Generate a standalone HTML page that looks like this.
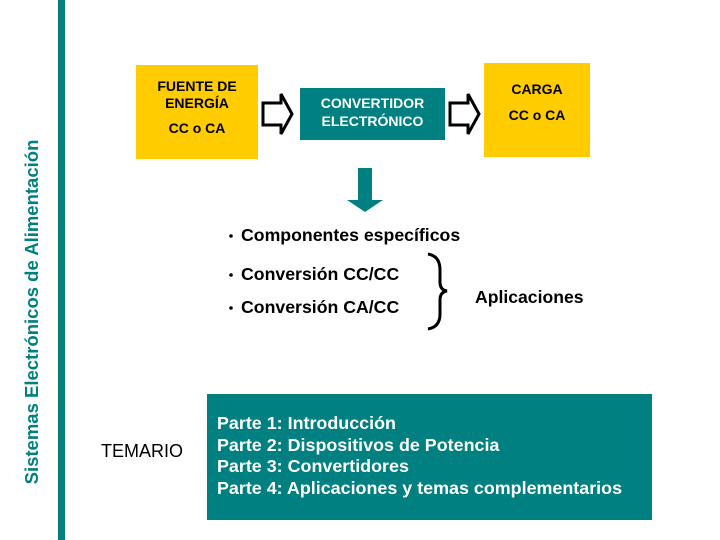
<!DOCTYPE html>
<html><head><meta charset="utf-8"><style>
body{margin:0;width:720px;height:540px;background:#fff;position:relative;overflow:hidden;font-family:"Liberation Sans",Arial,sans-serif}
div{position:absolute;white-space:nowrap}
.y{background:#FFCC00}
.t{background:#008080}
.b{font-weight:bold}
</style></head><body>
<div style="left:58px;top:0;width:7px;height:540px;background:#008080"></div>
<div class="b" style="left:32px;top:312px;width:400px;height:22px;transform:translate(-200px,-11px) rotate(-90deg);color:#008080;font-size:18.5px;text-align:center;line-height:22px">Sistemas Electrónicos de Alimentación</div>

<div class="y" style="left:136px;top:65px;width:122px;height:94px"></div>
<div class="b" style="left:136px;top:78px;width:122px;text-align:center;font-size:14px;line-height:17px">FUENTE DE<br>ENERGÍA</div>
<div class="b" style="left:136px;top:120px;width:122px;text-align:center;font-size:14px">CC o CA</div>

<div class="t" style="left:300px;top:88px;width:145px;height:52px"></div>
<div class="b" style="left:300px;top:94px;width:145px;text-align:center;font-size:14px;line-height:18px;color:#fff">CONVERTIDOR<br>ELECTRÓNICO</div>

<div class="y" style="left:484px;top:63px;width:106px;height:94px"></div>
<div class="b" style="left:484px;top:81px;width:106px;text-align:center;font-size:14px">CARGA</div>
<div class="b" style="left:484px;top:107px;width:106px;text-align:center;font-size:14px">CC o CA</div>

<svg style="position:absolute;left:0;top:0" width="720" height="540">
<polygon points="263,103 281,103 281,94 292,114 281,134 281,125 263,125" fill="#fff" stroke="#000" stroke-width="3"/>
<polygon points="450,103 468,103 468,94 479,114 468,134 468,125 450,125" fill="#fff" stroke="#000" stroke-width="3"/>
<polygon points="358,168 372,168 372,200 383,200 365,212 347,200 358,200" fill="#008080"/>
<path d="M428,254 Q440,256 440,270 L440,282 Q440,290 447,291 Q440,292 440,300 L440,314 Q440,327 428,329" fill="none" stroke="#000" stroke-width="3"/>
<circle cx="231" cy="236" r="1.8" fill="#000"/>
<circle cx="231" cy="275" r="1.8" fill="#000"/>
<circle cx="231" cy="308" r="1.8" fill="#000"/>
</svg>

<div class="b" style="left:241px;top:225px;font-size:17.7px">Componentes específicos</div>
<div class="b" style="left:241px;top:264px;font-size:17.7px">Conversión CC/CC</div>
<div class="b" style="left:241px;top:297px;font-size:17.7px">Conversión CA/CC</div>
<div class="b" style="left:475px;top:287px;font-size:17.6px">Aplicaciones</div>

<div style="left:101px;top:441px;font-size:18px">TEMARIO</div>
<div class="t" style="left:207px;top:394px;width:445px;height:126px"></div>
<div class="b" style="left:217px;top:413px;font-size:17.9px;line-height:21.5px;color:#fff">Parte 1: Introducción<br>Parte 2: Dispositivos de Potencia<br>Parte 3: Convertidores<br>Parte 4: Aplicaciones y temas complementarios</div>
</body></html>
